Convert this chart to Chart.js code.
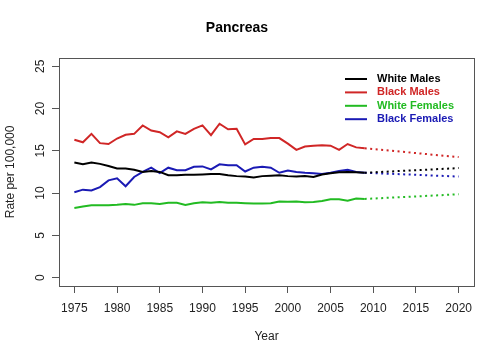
<!DOCTYPE html>
<html>
<head>
<meta charset="utf-8">
<script src="https://cdn.jsdelivr.net/npm/chart.js@4/dist/chart.umd.min.js"></script>
<style>
  html, body { margin: 0; padding: 0; background: #fff; }
  #wrap { width: 504px; height: 360px; }
</style>
</head>
<body>
<div id="wrap"><canvas id="c" width="504" height="360"></canvas></div>
<script>
// ---- data ----
const years = [1975,1976,1977,1978,1979,1980,1981,1982,1983,1984,1985,1986,1987,1988,1989,
               1990,1991,1992,1993,1994,1995,1996,1997,1998,1999,2000,2001,2002,2003,2004,
               2005,2006,2007,2008,2009];
const whiteMales = [13.6,13.4,13.6,13.45,13.2,12.9,12.9,12.75,12.5,12.6,12.5,12.1,12.1,12.15,12.15,
                    12.2,12.25,12.25,12.1,12.0,11.95,11.85,12.0,12.05,12.1,12.0,11.95,12.0,11.9,12.2,
                    12.35,12.45,12.5,12.45,12.4];
const blackMales = [16.3,16.0,17.0,15.9,15.8,16.45,16.9,17.0,18.0,17.4,17.2,16.6,17.3,17.0,17.6,
                    18.0,16.85,18.2,17.55,17.6,15.75,16.4,16.4,16.5,16.5,15.85,15.1,15.5,15.6,15.65,
                    15.6,15.1,15.8,15.4,15.3];
const whiteFemales = [8.23,8.4,8.55,8.55,8.55,8.6,8.7,8.6,8.8,8.8,8.7,8.85,8.85,8.6,8.8,
                      8.9,8.85,8.95,8.85,8.85,8.8,8.75,8.75,8.8,9.0,8.97,9.0,8.9,8.95,9.05,
                      9.25,9.25,9.1,9.35,9.3];
const blackFemales = [10.1,10.4,10.3,10.7,11.5,11.75,10.8,11.9,12.5,13.0,12.35,13.0,12.7,12.7,13.1,
                      13.15,12.8,13.4,13.3,13.3,12.55,13.0,13.1,13.0,12.4,12.65,12.5,12.4,12.35,12.25,
                      12.4,12.6,12.75,12.5,12.4];
// projections (dotted), endpoints
const projYears = [2009, 2020];
const projWhiteMales = [12.4, 12.95];
const projBlackMales = [15.3, 14.25];
const projWhiteFemales = [9.3, 9.85];
const projBlackFemales = [12.4, 11.95];

const seriesNames = ['White Males', 'Black Males', 'White Females', 'Black Females'];
const xTicks = [1975,1980,1985,1990,1995,2000,2005,2010,2015,2020];
const yTicks = [0,5,10,15,20,25];

const colors = ['#000000', '#D02626', '#22BB22', '#1A1AB4'];
const FONT = "'Liberation Sans', Arial, Helvetica, sans-serif";

const toPts = (xs, ys) => xs.map((x, i) => ({x: x, y: ys[i]}));
const observed = [whiteMales, blackMales, whiteFemales, blackFemales];
const projected = [projWhiteMales, projBlackMales, projWhiteFemales, projBlackFemales];

const datasets = [];
observed.forEach((s, i) => datasets.push({
  label: seriesNames[i], data: toPts(years, s), borderColor: colors[i], backgroundColor: colors[i],
  borderWidth: 2, pointRadius: 0, tension: 0, fill: false
}));
projected.forEach((s, i) => datasets.push({
  label: seriesNames[i] + ' (projected)', data: toPts(projYears, s), borderColor: colors[i], backgroundColor: colors[i],
  borderWidth: 2, borderDash: [2, 3.5], pointRadius: 0, tension: 0, fill: false
}));

const boxAndLegend = {
  id: 'boxAndLegend',
  afterDraw(chart) {
    const {ctx, chartArea: a} = chart;
    ctx.save();
    ctx.strokeStyle = '#555';
    ctx.lineWidth = 1;
    ctx.strokeRect(Math.round(a.left) + 0.5, Math.round(a.top) + 0.5,
                   Math.round(a.right - a.left), Math.round(a.bottom - a.top));
    // legend
    const lx0 = 345, lx1 = 367, tx = 377, y0 = 79, dy = 13.4;
    ctx.font = 'bold 11px ' + FONT;
    ctx.textBaseline = 'middle';
    ctx.textAlign = 'left';
    seriesNames.forEach((name, i) => {
      const y = y0 + i * dy;
      ctx.strokeStyle = colors[i];
      ctx.lineWidth = 2;
      ctx.beginPath(); ctx.moveTo(lx0, y); ctx.lineTo(lx1, y); ctx.stroke();
      ctx.fillStyle = colors[i];
      ctx.fillText(name, tx, y);
    });
    ctx.restore();
  }
};

new Chart(document.getElementById('c'), {
  type: 'line',
  data: { datasets },
  plugins: [boxAndLegend],
  options: {
    responsive: false,
    animation: false,
    devicePixelRatio: 1,
    layout: { padding: { left: 0, right: 30, top: 0, bottom: 0 } },
    plugins: {
      legend: { display: false },
      tooltip: { enabled: false },
      title: {
        display: true, text: 'Pancreas', color: '#000',
        font: { family: FONT, size: 14, weight: 'bold' },
        padding: { top: 20, bottom: 21 }
      }
    },
    scales: {
      x: {
        type: 'linear', min: 1973.2, max: 2021.8,
        afterBuildTicks: (s) => { s.ticks = xTicks.map(v => ({value: v})); },
        afterFit: (s) => { s.height = 74; },
        grid: { drawOnChartArea: false, drawTicks: true, tickLength: 7, color: '#555' },
        border: { display: false },
        ticks: { color: '#222', font: { family: FONT, size: 12 }, padding: 8,
                 maxRotation: 0, minRotation: 0, autoSkip: false,
                 callback: (v) => String(v) },
        title: { display: true, text: 'Year', color: '#222',
                 font: { family: FONT, size: 12 }, padding: { top: 0, bottom: 16 } }
      },
      y: {
        type: 'linear', min: -1, max: 26,
        afterBuildTicks: (s) => { s.ticks = yTicks.map(v => ({value: v})); },
        afterFit: (s) => { s.width = 59; },
        grid: { drawOnChartArea: false, drawTicks: true, tickLength: 7, color: '#555' },
        border: { display: false },
        ticks: { color: '#222', font: { family: FONT, size: 12 }, padding: 5,
                 minRotation: 90, maxRotation: 90, crossAlign: 'center', autoSkip: false,
                 callback: (v) => String(v) },
        title: { display: true, text: 'Rate per 100,000', color: '#222',
                 font: { family: FONT, size: 12 }, padding: { top: 3, bottom: 0 } }
      }
    }
  }
});
</script>
</body>
</html>
